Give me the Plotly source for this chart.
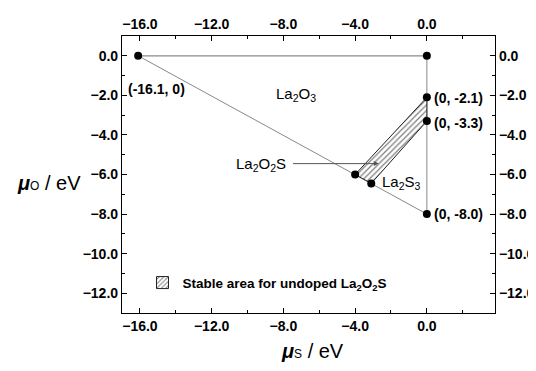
import plotly.graph_objects as go

# vertices of the chemical-potential diagram (mu_S, mu_O) in eV
mu_S_pts = [-16.1, 0.0, 0.0, 0.0, 0.0, -4.0, -3.1]
mu_O_pts = [0.0, 0.0, -2.1, -3.3, -8.0, -6.0, -6.45]

# boundary lines
top_S = [-16.1, 0.0]
top_O = [0.0, 0.0]
vert_S = [0.0, 0.0]
vert_O = [0.0, -8.0]
diag_S = [-16.1, 0.0]
diag_O = [0.0, -8.0]

# stable region for undoped La2O2S
stable_S = [-4.0, 0.0, 0.0, -3.1, -4.0]
stable_O = [-6.0, -2.1, -3.3, -6.45, -6.0]

x_ticks = [-16, -12, -8, -4, 0]
y_ticks = [0, -2, -4, -6, -8, -10, -12]

FONT = "Liberation Sans, Arial, sans-serif"

fig = go.Figure()

gray = "#8a8a8a"
fig.add_trace(go.Scatter(x=top_S, y=top_O, mode="lines",
                         line=dict(color=gray, width=1.2), showlegend=False, hoverinfo="skip"))
fig.add_trace(go.Scatter(x=vert_S, y=vert_O, mode="lines",
                         line=dict(color=gray, width=1.0), showlegend=False, hoverinfo="skip"))
fig.add_trace(go.Scatter(x=diag_S, y=diag_O, mode="lines",
                         line=dict(color="#555555", width=0.7), showlegend=False, hoverinfo="skip"))

fig.add_trace(go.Scatter(
    x=stable_S, y=stable_O, mode="lines", fill="toself",
    fillcolor="rgba(0,0,0,0)",
    fillpattern=dict(shape="/", size=4, solidity=0.32, fgcolor="#000000", bgcolor="white"),
    line=dict(color="#222222", width=1),
    showlegend=False, hoverinfo="skip"))

# legend entry (square hatched swatch)
fig.add_trace(go.Bar(
    x=[None], y=[None],
    marker=dict(color="white", line=dict(color="#222222", width=1),
                pattern=dict(shape="/", size=4, solidity=0.32, fgcolor="#000000", bgcolor="white")),
    name="<b>Stable area for undoped La<sub>2</sub>O<sub>2</sub>S</b>",
    showlegend=True, hoverinfo="skip"))

fig.add_trace(go.Scatter(x=mu_S_pts, y=mu_O_pts, mode="markers",
                         marker=dict(color="black", size=8), showlegend=False, hoverinfo="skip"))

# dummy trace for secondary axes
fig.add_trace(go.Scatter(x=[None], y=[None], xaxis="x2", yaxis="y2",
                         showlegend=False, hoverinfo="skip"))

tickfont = dict(family=FONT, size=14, color="black", weight="bold")
common = dict(showgrid=False, zeroline=False, showline=True, linecolor="black", linewidth=1.2,
              ticks="inside", ticklen=5, tickwidth=1.2, tickcolor="black",
              tickfont=tickfont, tickformat=".1f", automargin=False)

xminor = dict(ticks="inside", ticklen=3, tickwidth=1, tickcolor="black", dtick=2, tick0=0)
yminor = dict(ticks="inside", ticklen=3, tickwidth=1, tickcolor="black", dtick=1, tick0=0)

# page body has an 8px margin, so the figure is sized/offset to compensate
fig.update_layout(
    width=528, height=363,
    margin=dict(l=114, r=41, t=28, b=58, autoexpand=False),
    paper_bgcolor="white", plot_bgcolor="white",
    font=dict(family=FONT, color="black"),
    xaxis=dict(range=[-17.0, 3.8], tickvals=x_ticks, minor=xminor, **common),
    xaxis2=dict(range=[-17.0, 3.8], tickvals=x_ticks, minor=xminor, overlaying="x",
                side="top", anchor="y", **common),
    yaxis=dict(range=[-13.0, 1.0], tickvals=y_ticks, minor=yminor, **common),
    yaxis2=dict(range=[-13.0, 1.0], tickvals=y_ticks, minor=yminor, overlaying="y",
                side="right", anchor="x", **common),
    legend=dict(x=0.055, y=0.165, xanchor="left", yanchor="top",
                bgcolor="rgba(0,0,0,0)", font=dict(family=FONT, size=13.5),
                itemwidth=30),
)

# axis titles
fig.add_annotation(xref="paper", yref="paper", x=0.51, y=-0.137, xanchor="center", yanchor="middle",
                   text="<b><i>μ</i></b><span style='font-size:12px'>S</span> / eV",
                   showarrow=False, font=dict(family=FONT, size=20, color="black"))
fig.add_annotation(xref="paper", yref="paper", x=-0.287, y=0.47, xanchor="left", yanchor="middle",
                   text="<b><i>μ</i></b><span style='font-size:12px'>O</span> / eV",
                   showarrow=False, font=dict(family=FONT, size=20, color="black"))

def ann(x, y, text, size=14, xanchor="left", bold=True):
    fig.add_annotation(x=x, y=y, text=(f"<b>{text}</b>" if bold else text), showarrow=False,
                       xanchor=xanchor, yanchor="middle",
                       font=dict(family=FONT, size=size, color="black"))

ann(-16.8, -1.66, "(-16.1, 0)")
ann(0.3, -2.15, "(0, -2.1)")
ann(0.3, -3.38, "(0, -3.3)")
ann(0.3, -8.0, "(0, -8.0)")
ann(-7.3, -1.95, "La<sub>2</sub>O<sub>3</sub>", size=15, xanchor="center", bold=False)
ann(-2.6, -6.4, "La<sub>2</sub>S<sub>3</sub>", size=15, bold=False)
ann(-7.75, -5.5, "La<sub>2</sub>O<sub>2</sub>S", size=15, xanchor="right", bold=False)

fig.add_annotation(x=-2.68, y=-5.45, ax=-7.55, ay=-5.45, axref="x", ayref="y",
                   xref="x", yref="y", text="", showarrow=True,
                   arrowhead=2, arrowsize=1, arrowwidth=1, arrowcolor="#555555")

fig.write_html("out.html")
